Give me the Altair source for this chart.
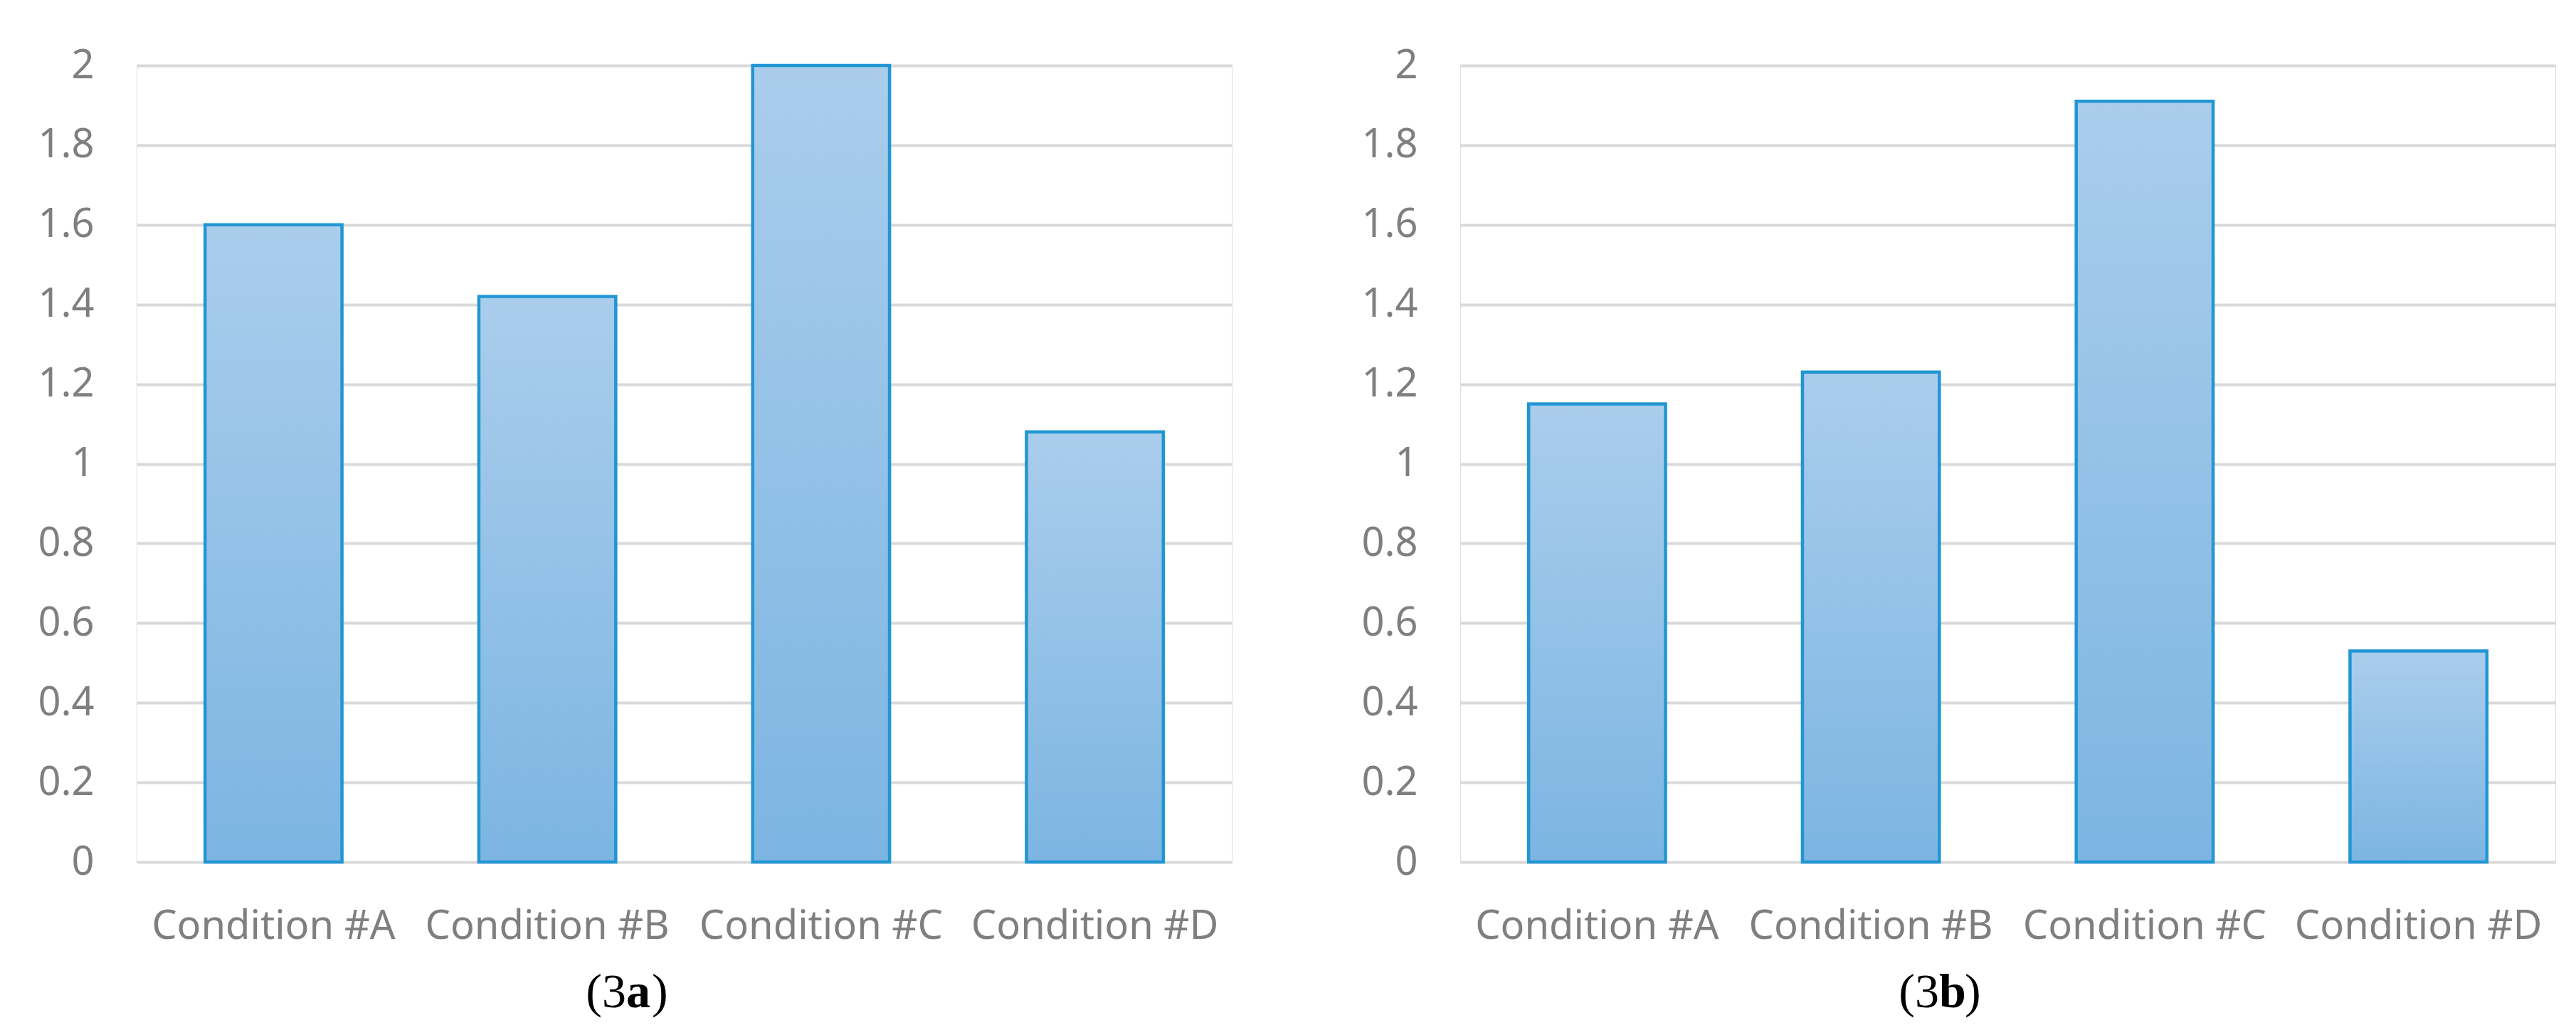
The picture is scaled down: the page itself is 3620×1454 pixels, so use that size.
import altair as alt
import pandas as pd

# ---- data ----
conditions = ["Condition #A", "Condition #B", "Condition #C", "Condition #D"]
values_3a = [1.60, 1.42, 2.00, 1.08]
values_3b = [1.15, 1.23, 1.91, 0.53]
y_ticks = [0, 0.2, 0.4, 0.6, 0.8, 1, 1.2, 1.4, 1.6, 1.8, 2]
caption_3a = ["(3", "a", ")"]
caption_3b = ["(3", "b", ")"]

W, H = 1539, 1119
LABEL_FONT = "Noto Sans"
LABEL_COLOR = "#7f7f7f"
GRID_COLOR = "#d9d9d9"

bar_fill = alt.Gradient(
    gradient="linear",
    stops=[alt.GradientStop(color="#aacdec", offset=0),
           alt.GradientStop(color="#7cb5e2", offset=1)],
    x1=0, x2=0, y1=0, y2=1,
)


def panel(values, caption, cap_x):
    df = pd.DataFrame({"condition": conditions, "value": values})
    bars = alt.Chart(df).mark_bar(
        fill=bar_fill, stroke="#2196d3", strokeWidth=4.5
    ).encode(
        x=alt.X(
            "condition:N", sort=conditions, title=None,
            scale=alt.Scale(paddingInner=0.5, paddingOuter=0.25),
            axis=alt.Axis(labelAngle=0, labelFont=LABEL_FONT, labelFontSize=56,
                          labelColor=LABEL_COLOR, labelPadding=63, labelLimit=0,
                          ticks=False, tickSize=0, domain=False, grid=False),
        ),
        y=alt.Y(
            "value:Q", title=None,
            scale=alt.Scale(domain=[0, 2], nice=False),
            axis=alt.Axis(values=y_ticks, format="~g", labelFont=LABEL_FONT,
                          labelFontSize=56, labelColor=LABEL_COLOR, labelPadding=60,
                          ticks=False, tickSize=0, domain=False, grid=True,
                          gridColor=GRID_COLOR, gridWidth=4),
        ),
    )
    cap_data = alt.Data(values=[{}])
    cap_y = 1323
    t1 = alt.Chart(cap_data).mark_text(
        text=caption[0], font="Liberation Serif", fontSize=68, color="black",
        align="right", baseline="alphabetic"
    ).encode(x=alt.value(cap_x), y=alt.value(cap_y))
    t2 = alt.Chart(cap_data).mark_text(
        text=caption[1], font="Liberation Serif", fontSize=68, fontWeight="bold",
        color="black", align="left", baseline="alphabetic"
    ).encode(x=alt.value(cap_x), y=alt.value(cap_y))
    t3 = alt.Chart(cap_data).mark_text(
        text=caption[2], font="Liberation Serif", fontSize=68, color="black",
        align="left", baseline="alphabetic"
    ).encode(x=alt.value(cap_x + 36), y=alt.value(cap_y))
    return alt.layer(bars, t1, t2, t3).properties(width=W, height=H)


left = panel(values_3a, caption_3a, 688)
right = panel(values_3b, caption_3b, 673)

chart = alt.hconcat(left, right, spacing=180).properties(
    padding={"left": 44, "top": 55, "right": 0, "bottom": 0}
).configure_view(stroke=None).configure(background="white")

chart.save("out.html", embed_options={"renderer": "svg", "actions": False})
